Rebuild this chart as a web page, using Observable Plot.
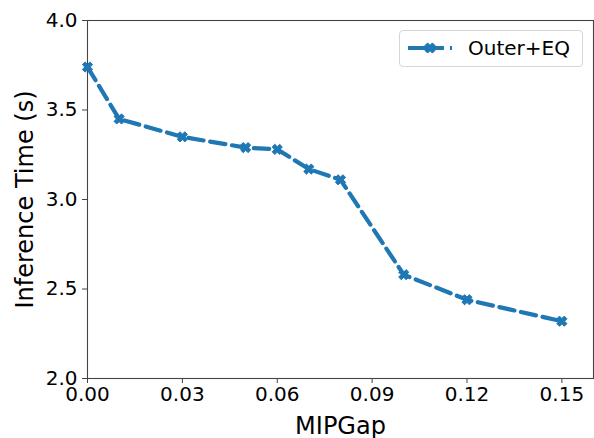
<!DOCTYPE html>
<html>
<head>
<meta charset="utf-8">
<script src="https://cdn.jsdelivr.net/npm/d3@7"></script>
<script src="https://cdn.jsdelivr.net/npm/@observablehq/plot@0.6"></script>
<style>
  html, body { margin: 0; padding: 0; background: #fff; }
  #wrap { position: relative; width: 594px; height: 438px; font-family: "DejaVu Sans", sans-serif; }
  #legend { position: absolute; left: 399px; top: 30px; width: 184px; height: 37px; box-sizing: border-box;
            border: 1px solid #d6d6d6; border-radius: 4px; background: rgba(255,255,255,0.8); }
  #legend svg { position: absolute; left: 0; top: 0; }
  #legend span { position: absolute; left: 68px; top: 5px; font-size: 20px; color: #000; line-height: 24px; }
</style>
</head>
<body>
<div id="wrap"></div>
<script>
const mipGap = [0, 0.01, 0.03, 0.05, 0.06, 0.07, 0.08, 0.10, 0.12, 0.15];
const inferenceTime = [3.74, 3.45, 3.35, 3.29, 3.28, 3.17, 3.11, 2.58, 2.44, 2.32];
const seriesName = "Outer+EQ";
const xTicks = [0, 0.03, 0.06, 0.09, 0.12, 0.15];
const yTicks = [2.0, 2.5, 3.0, 3.5, 4.0];

const data = mipGap.map((x, i) => ({x, y: inferenceTime[i]}));
const blue = "#1f77b4";

// Filled "X" marker like matplotlib's 'X'
const xSymbol = {
  draw(context, size) {
    const s = Math.sqrt(size / Math.PI);
    const w = s * 0.36;
    const pts = [[-w,-s],[w,-s],[w,-w],[s,-w],[s,w],[w,w],[w,s],[-w,s],[-w,w],[-s,w],[-s,-w],[-w,-w]]
      .map(([x, y]) => [(x - y) / Math.SQRT2, (x + y) / Math.SQRT2]);
    context.moveTo(pts[0][0], pts[0][1]);
    for (let i = 1; i < pts.length; i++) context.lineTo(pts[i][0], pts[i][1]);
    context.closePath();
  }
};

const chart = Plot.plot({
  width: 594,
  height: 438,
  marginLeft: 87,
  marginTop: 20,
  marginBottom: 60,
  marginRight: 1,
  style: {fontFamily: "DejaVu Sans, sans-serif", fontSize: "20px", color: "#000", background: "#fff"},
  x: {domain: [0, 0.16], ticks: xTicks, tickFormat: d3.format(".2f"), label: null},
  y: {domain: [2, 4], ticks: yTicks, tickFormat: d3.format(".1f"), label: null},
  marks: [
    Plot.frame({stroke: "#444", strokeWidth: 1.1}),
    Plot.axisX({ticks: xTicks, tickFormat: d3.format(".2f"), tickSize: 5, tickPadding: 3, stroke: "#444", fontSize: 20,
      label: "MIPGap", labelAnchor: "center", labelOffset: 55, labelArrow: "none"}),
    Plot.axisY({ticks: yTicks, tickFormat: d3.format(".1f"), tickSize: 5, tickPadding: 5, stroke: "#444", fontSize: 20,
      label: "Inference Time (s)", labelAnchor: "center", labelOffset: 72, labelArrow: "none"}),
    Plot.line(data, {x: "x", y: "y", stroke: blue, strokeWidth: 4.2, strokeDasharray: "15.4,6.7"}),
    Plot.dot(data, {x: "x", y: "y", symbol: xSymbol, r: 5.3, fill: blue, stroke: blue, strokeWidth: 1})
  ]
});

// enlarge axis label text
chart.querySelectorAll("g[aria-label='x-axis label'] text, g[aria-label='y-axis label'] text").forEach(t => {
  t.setAttribute("font-size", "24");
  t.style.fontSize = "24px";
});

const wrap = document.getElementById("wrap");
wrap.appendChild(chart);

// legend
const legend = document.createElement("div");
legend.id = "legend";
const s = d3.create("svg").attr("width", 68).attr("height", 36);
s.append("line").attr("x1", 8).attr("x2", 44).attr("y1", 17).attr("y2", 17)
  .attr("stroke", blue).attr("stroke-width", 4.2);
s.append("line").attr("x1", 50).attr("x2", 52).attr("y1", 17).attr("y2", 17)
  .attr("stroke", blue).attr("stroke-width", 4.2);
s.append("path").attr("transform", "translate(30,17)").attr("fill", blue).attr("stroke", blue)
  .attr("d", (() => { const p = d3.path(); xSymbol.draw(p, 5.3 * 5.3 * Math.PI); return p.toString(); })());
legend.appendChild(s.node());
const lab = document.createElement("span");
lab.textContent = seriesName;
legend.appendChild(lab);
wrap.appendChild(legend);
</script>
</body>
</html>
